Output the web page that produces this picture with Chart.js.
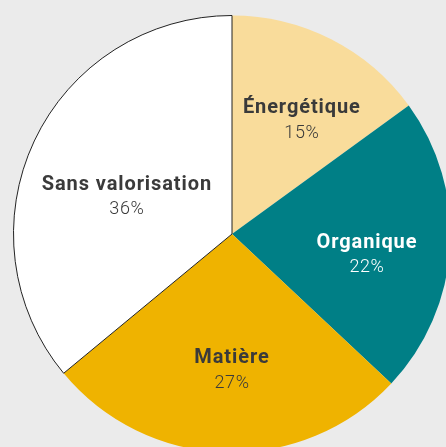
<!DOCTYPE html>
<html>
<head>
<meta charset="utf-8">
<script src="https://cdn.jsdelivr.net/npm/chart.js@4/dist/chart.umd.min.js"></script>
<style>
  html, body { margin: 0; padding: 0; width: 446px; height: 447px; overflow: hidden; background: #ebebeb; }
  #pie { position: absolute; left: 13px; top: 15px; }
</style>
</head>
<body>
<canvas id="pie" width="438" height="438"></canvas>
<script>
// Données
const categories = ['Énergétique', 'Organique', 'Matière', 'Sans valorisation'];
const percentages = [15, 22, 27, 36];

const sliceColors = ['#f9dc9b', '#007f86', '#efb300', '#ffffff'];
const textColors = ['#3a3a3a', '#ffffff', '#3a3a3a', '#3a3a3a'];
// position du libellé : fraction du rayon et décalage d'angle (degrés)
const labelRadius = [0.61, 0.625, 0.623, 0.51];
const labelShift = [4.6, 5.2, -1.8, -5.8];

// Plugin pour dessiner les libellés dans les parts
const sliceLabels = {
    id: 'sliceLabels',
    afterDatasetsDraw(chart) {
        const ctx = chart.ctx;
        const meta = chart.getDatasetMeta(0);
        meta.data.forEach((arc, i) => {
            const p = arc.getProps(['x', 'y', 'startAngle', 'endAngle', 'outerRadius'], true);
            const mid = (p.startAngle + p.endAngle) / 2 + labelShift[i] * Math.PI / 180;
            const r = p.outerRadius * labelRadius[i];
            const x = p.x + Math.cos(mid) * r;
            const y = p.y + Math.sin(mid) * r;
            ctx.save();
            ctx.fillStyle = textColors[i];
            ctx.textAlign = 'center';
            ctx.textBaseline = 'middle';
            ctx.letterSpacing = '0.9px';
            ctx.font = 'bold 20px Roboto, sans-serif';
            ctx.fillText(categories[i], x, y - 12);
            ctx.letterSpacing = '0.6px';
            ctx.font = '300 18px Roboto, sans-serif';
            ctx.fillText(percentages[i] + '%', x, y + 13);
            ctx.restore();
        });
    }
};

new Chart(document.getElementById('pie'), {
    type: 'pie',
    data: {
        labels: categories,
        datasets: [{
            data: percentages,
            backgroundColor: sliceColors,
            borderColor: '#222222',
            borderWidth: [0, 0, 0, 1]
        }]
    },
    options: {
        responsive: false,
        animation: false,
        layout: { padding: 0 },
        plugins: {
            legend: { display: false },
            tooltip: { enabled: false }
        }
    },
    plugins: [sliceLabels]
});
</script>
</body>
</html>
